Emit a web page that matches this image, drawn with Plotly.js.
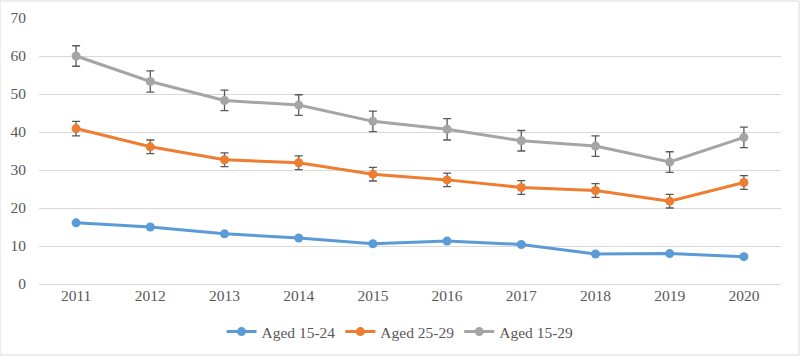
<!DOCTYPE html>
<html>
<head>
<meta charset="utf-8">
<script src="https://cdn.plot.ly/plotly-3.0.1.min.js"></script>
<style>
html,body{margin:0;padding:0;background:#fff;}
#chart{width:800px;height:356px;}
</style>
</head>
<body>
<div id="chart"></div>
<script>
var years = ["2011","2012","2013","2014","2015","2016","2017","2018","2019","2020"];
var aged1524 = [16.1, 15.0, 13.2, 12.1, 10.6, 11.3, 10.4, 7.9, 8.0, 7.2];
var aged2529 = [40.9, 36.1, 32.7, 31.9, 28.9, 27.4, 25.4, 24.6, 21.8, 26.7];
var aged1529 = [60.0, 53.3, 48.3, 47.1, 42.8, 40.7, 37.7, 36.3, 32.1, 38.6];
var err1524 = [0.3, 0.3, 0.3, 0.3, 0.3, 0.3, 0.3, 0.3, 0.3, 0.3];
var err2529 = [1.9, 1.8, 1.8, 1.8, 1.8, 1.8, 1.8, 1.8, 1.8, 1.8];
var err1529 = [2.7, 2.8, 2.7, 2.7, 2.7, 2.8, 2.7, 2.7, 2.7, 2.7];
var seriesNames = ["Aged 15-24", "Aged 25-29", "Aged 15-29"];
var colors = ["#5b9bd5", "#ed7d31", "#a5a5a5"];
var FONT = "Times New Roman, Liberation Serif, DejaVu Serif, serif";

function mk(name, y, err, color, showErr) {
  return {
    type: "scatter", mode: "lines+markers", name: name,
    x: years, y: y,
    line: {color: color, width: 3},
    marker: {color: color, size: 9, symbol: "circle"},
    error_y: {type: "data", array: err, visible: showErr, color: "#595959", thickness: 1.3, width: 4}
  };
}
var data = [
  mk(seriesNames[0], aged1524, err1524, colors[0], false),
  mk(seriesNames[1], aged2529, err2529, colors[1], true),
  mk(seriesNames[2], aged1529, err1529, colors[2], true)
];
var layout = {
  width: 800, height: 356,
  margin: {l: 39, r: 19, t: 18, b: 72},
  paper_bgcolor: "#ffffff", plot_bgcolor: "#ffffff",
  font: {family: FONT, size: 15.5, color: "#595959"},
  showlegend: true,
  legend: {orientation: "h", xref: "container", yref: "container", x: 0.5, xanchor: "center",
           y: 24/356, yanchor: "middle",
           font: {family: FONT, size: 15.5, color: "#595959"}, tracegroupgap: 0},
  xaxis: {type: "category", range: [-0.5, 9.5], showgrid: false, zeroline: false, automargin: false,
          showline: false, ticks: "", tickfont: {family: FONT, size: 15.5, color: "#595959"}},
  yaxis: {range: [0, 70], dtick: 10, tick0: 0, showgrid: true, gridcolor: "#d9d9d9", gridwidth: 1,
          zeroline: true, zerolinecolor: "#d9d9d9", zerolinewidth: 1, showline: false, ticks: "",
          automargin: false, ticklabelstandoff: 12, tickfont: {family: FONT, size: 15.5, color: "#595959"}},
  shapes: [{type: "rect", xref: "paper", yref: "paper", x0: -39/742, x1: 1 + 18/742, y0: -71/266, y1: 1 + 17/266,
            line: {color: "#d9d9d9", width: 1}, fillcolor: "rgba(0,0,0,0)"}]
};
Plotly.newPlot("chart", data, layout, {staticPlot: true, displayModeBar: false});
</script>
</body>
</html>
